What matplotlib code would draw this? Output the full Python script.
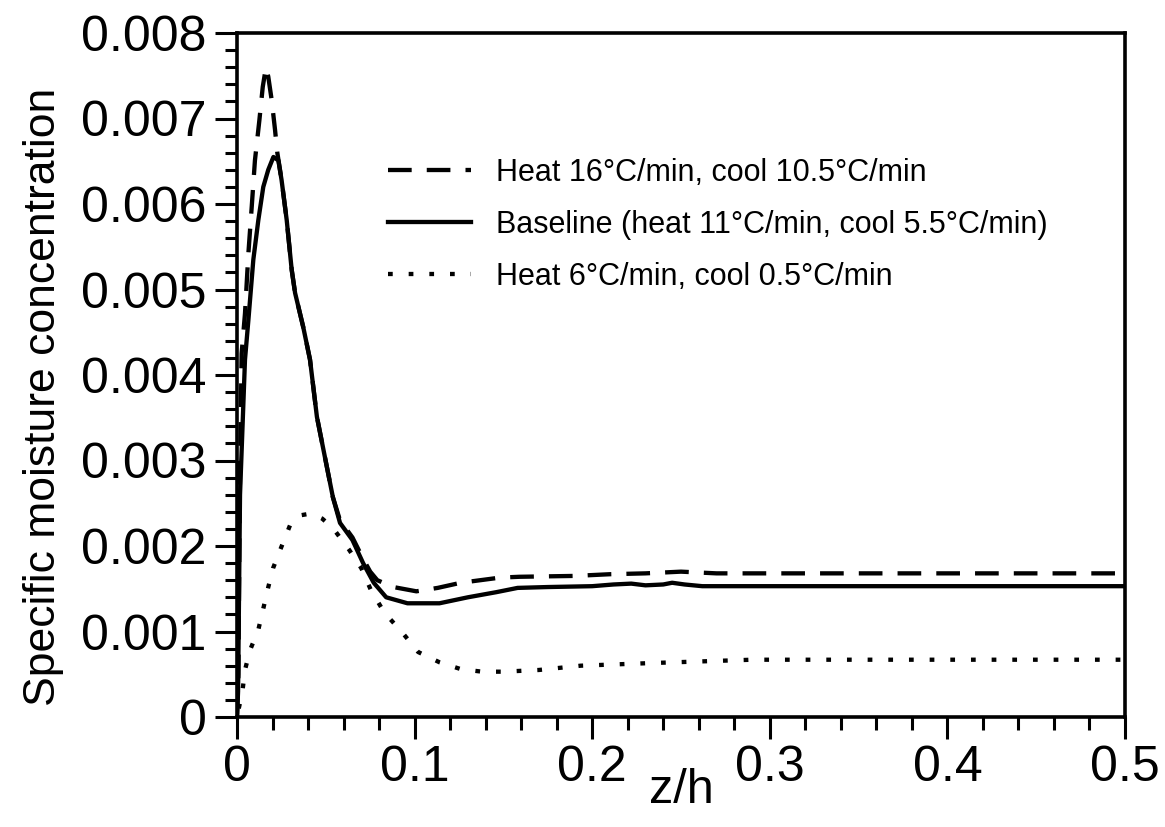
import matplotlib
matplotlib.use("Agg")
import matplotlib.pyplot as plt
from matplotlib.ticker import MultipleLocator, FixedFormatter, FixedLocator

plt.rcParams['font.family'] = ['Liberation Sans', 'DejaVu Sans']

# Heat 16 C/min, cool 10.5 C/min (dashed)
x_fast = [0.0, 0.0008, 0.0015, 0.0026, 0.0045, 0.0064, 0.0083, 0.0101, 0.0126, 0.0145,
          0.0163, 0.0176, 0.0195, 0.0214, 0.0227, 0.0242, 0.0251, 0.028, 0.0308, 0.0327,
          0.0373, 0.0411, 0.045, 0.054, 0.058, 0.065, 0.071, 0.075, 0.079, 0.088,
          0.101, 0.113, 0.126, 0.137, 0.148, 0.159, 0.19, 0.21, 0.23, 0.25, 0.27, 0.5]
y_fast = [0.0, 0.0005, 0.0025, 0.00425, 0.00472, 0.00542, 0.00597, 0.00651, 0.00698, 0.00737,
          0.0076, 0.00749, 0.00722, 0.00687, 0.0066, 0.0064, 0.00628, 0.00581, 0.00523, 0.00496,
          0.00456, 0.00418, 0.00351, 0.00257, 0.0023, 0.0021, 0.00185, 0.0017, 0.0016, 0.00152,
          0.00147, 0.00151, 0.00157, 0.0016, 0.00163, 0.00164, 0.00165, 0.00167, 0.00168, 0.0017, 0.00168, 0.00168]

# Baseline (solid)
x_base = [0.0, 0.0006, 0.0017, 0.0045, 0.0064, 0.0092, 0.012, 0.0148, 0.0176, 0.0205,
          0.0233, 0.0251, 0.028, 0.0308, 0.0327, 0.0373, 0.0411, 0.045, 0.054, 0.058,
          0.065, 0.071, 0.077, 0.084, 0.096, 0.114, 0.130, 0.146, 0.158, 0.175,
          0.2, 0.212, 0.222, 0.23, 0.24, 0.245, 0.252, 0.262, 0.5]
y_base = [0.0, 0.0003, 0.0026, 0.00418, 0.00464, 0.00535, 0.00581, 0.0062, 0.0064, 0.00655,
          0.00651, 0.00628, 0.00581, 0.00523, 0.00496, 0.00456, 0.00418, 0.00351, 0.00257, 0.00227,
          0.00207, 0.0018, 0.00157, 0.0014, 0.00133, 0.00133, 0.0014, 0.00146, 0.00151, 0.00152,
          0.00153, 0.00155, 0.00156, 0.00154, 0.00155, 0.00157, 0.00155, 0.00153, 0.00153]

# Heat 6 C/min, cool 0.5 C/min (dotted)
x_slow = [0.001, 0.003, 0.0045, 0.0073, 0.012, 0.0146, 0.0175, 0.0203, 0.025, 0.030,
          0.036, 0.0417, 0.048, 0.054, 0.063, 0.070, 0.0755, 0.083, 0.093, 0.102,
          0.114, 0.126, 0.138, 0.150, 0.17, 0.1935, 0.232, 0.29, 0.5]
y_slow = [0.0001, 0.00029, 0.00055, 0.00078, 0.00102, 0.00125, 0.00151, 0.00174, 0.00199, 0.00225,
          0.00236, 0.00238, 0.00232, 0.00221, 0.00196, 0.00174, 0.00148, 0.00122, 0.00099, 0.00076,
          0.00064, 0.00056, 0.00053, 0.00053, 0.00055, 0.0006, 0.00063, 0.00067, 0.00067]

labels = ["Heat 16°C/min, cool 10.5°C/min",
          "Baseline (heat 11°C/min, cool 5.5°C/min)",
          "Heat 6°C/min, cool 0.5°C/min"]

x_ticks = [0, 0.1, 0.2, 0.3, 0.4, 0.5]
x_ticklabels = ["0", "0.1", "0.2", "0.3", "0.4", "0.5"]
y_ticks = [0, 0.001, 0.002, 0.003, 0.004, 0.005, 0.006, 0.007, 0.008]
y_ticklabels = ["0", "0.001", "0.002", "0.003", "0.004", "0.005", "0.006", "0.007", "0.008"]

fig = plt.figure(figsize=(11.65, 8.27), dpi=100)
ax = fig.add_axes([237/1165, 1-717/827, (1125-237)/1165, (717-33)/827])

lw = 3.1
ax.plot(x_fast, y_fast, color='black', lw=lw, dashes=(5.5, 3.5), label=labels[0])
ax.plot(x_base, y_base, color='black', lw=lw, label=labels[1])
ax.plot(x_slow, y_slow, color='black', lw=lw, dashes=(1.1, 3.7), label=labels[2])

ax.set_xlim(0, 0.5)
ax.set_ylim(0, 0.008)
ax.xaxis.set_major_locator(FixedLocator(x_ticks))
ax.xaxis.set_major_formatter(FixedFormatter(x_ticklabels))
ax.xaxis.set_minor_locator(MultipleLocator(0.02))
ax.yaxis.set_major_locator(FixedLocator(y_ticks))
ax.yaxis.set_major_formatter(FixedFormatter(y_ticklabels))
ax.yaxis.set_minor_locator(MultipleLocator(0.0002))

ax.tick_params(which='both', direction='out', top=False, right=False, width=2.2, color='black')
ax.tick_params(which='major', length=16, labelsize=36)
ax.tick_params(which='minor', length=9)
ax.tick_params(axis='y', which='major', pad=6)
ax.tick_params(axis='x', which='major', pad=4)
for s in ax.spines.values():
    s.set_linewidth(2.6)

ax.set_xlabel("z/h", fontsize=35)
ax.xaxis.set_label_coords(0.5, -0.075)
ax.set_ylabel("Specific moisture concentration", fontsize=32)
ax.yaxis.set_label_coords(-0.195, 0.468)

leg = ax.legend(loc='upper left', bbox_to_anchor=((388-237)/888, (717-158)/684),
                frameon=False, fontsize=22, handlelength=2.7, handletextpad=0.85,
                labelspacing=0.72, borderpad=0, borderaxespad=0)

fig.savefig("out.png", dpi=100)
